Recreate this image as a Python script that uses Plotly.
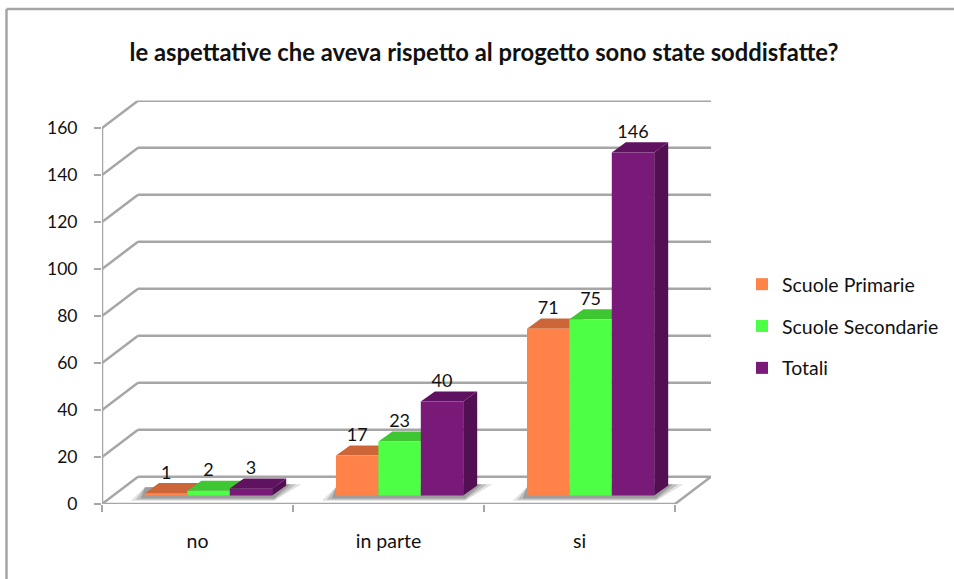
import plotly.graph_objects as go

CATEGORIES = ["no", "in parte", "si"]
SERIES = ["Scuole Primarie", "Scuole Secondarie", "Totali"]
PRIMARIE = [1, 17, 71]
SECONDARIE = [2, 23, 75]
TOTALI = [3, 40, 146]
VALUES = [PRIMARIE, SECONDARIE, TOTALI]
Y_TICKS = [0, 20, 40, 60, 80, 100, 120, 140, 160]

FRONT = ["#FF8249", "#4DFF45", "#7A1A78"]
TOP = ["#CC6638", "#3FC733", "#5F1260"]
SIDE = ["#B85A30", "#38B02E", "#520F52"]
GRID = "#A6A6A6"
FONT = "Lato, Carlito, sans-serif"
TEXT = "#111111"

W, H = 954, 579
L, R, B, T = 102, 711, 504, 100.5
X_PX = 191.0
Y_PX = 2.35
X_MIN = -0.5
X_FRONT_MAX = 2.5
X_MAX = X_MIN + (R - L) / X_PX
Y_MAX = (B - T) / Y_PX
WALL_DX = X_MAX - X_FRONT_MAX
WALL_DY = 11.6
BAR_W = 42.4 / X_PX
BAR_START = -52.5 / X_PX
BAR_BASE = 3.6
DEPTH_DX = 14 / X_PX
DEPTH_DY = 4.3

fig = go.Figure()

# soft shadow under each group of bars (three stacked translucent layers)
for c in range(len(CATEGORIES)):
    x0 = c + BAR_START
    x1 = x0 + 3 * BAR_W
    for grow, op in [(1.0, 0.2), (0.65, 0.3), (0.3, 0.42)]:
        fig.add_trace(go.Scatter(
            x=[x0 - 0.075 * grow, x1 + 0.01, x1 + DEPTH_DX + 0.08 * grow, x1 + DEPTH_DX, x0],
            y=[BAR_BASE - 0.9 - 1.3 * grow, BAR_BASE - 0.9 - 1.3 * grow, BAR_BASE + 4.8, BAR_BASE + 4.8, BAR_BASE + 3.5],
            mode="lines", fill="toself", line=dict(width=0),
            fillcolor=f"rgba(110,110,110,{op})", showlegend=False, hoverinfo="skip",
        ))

# depth faces of every bar, computed from the values
for s, vals in enumerate(VALUES):
    for c, v in enumerate(vals):
        x0 = c + BAR_START + s * BAR_W
        x1 = x0 + BAR_W
        top = BAR_BASE + v
        fig.add_trace(go.Scatter(
            x=[x1, x1 + DEPTH_DX, x1 + DEPTH_DX, x1],
            y=[BAR_BASE, BAR_BASE + DEPTH_DY, top + DEPTH_DY, top],
            mode="lines", fill="toself", line=dict(width=0), fillcolor=SIDE[s],
            showlegend=False, hoverinfo="skip",
        ))
        fig.add_trace(go.Scatter(
            x=[x0, x1, x1 + DEPTH_DX, x0 + DEPTH_DX],
            y=[top, top, top + DEPTH_DY, top + DEPTH_DY],
            mode="lines", fill="toself", line=dict(width=0), fillcolor=TOP[s],
            showlegend=False, hoverinfo="skip",
        ))

# front faces: real bars on an overlaid axis pair, so they sit above all depth faces
for s, vals in enumerate(VALUES):
    fig.add_trace(go.Bar(
        x=list(range(len(CATEGORIES))), y=vals, base=BAR_BASE, name=SERIES[s],
        width=BAR_W, offset=BAR_START + s * BAR_W,
        marker=dict(color=FRONT[s], line=dict(width=0)),
        xaxis="x2", yaxis="y2", legendgroup=SERIES[s],
    ))
    fig.add_trace(go.Scatter(
        x=[c + BAR_START + (s + 0.5) * BAR_W for c in range(len(CATEGORIES))],
        y=[BAR_BASE + v + DEPTH_DY for v in vals],
        text=[str(v) for v in vals], mode="text", textposition="top center",
        textfont=dict(family=FONT, size=18, color=TEXT),
        xaxis="x2", yaxis="y2", showlegend=False, hoverinfo="skip", cliponaxis=False,
    ))

shapes = []
def seg(x0, y0, x1, y1):
    shapes.append(dict(type="line", xref="x", yref="y", x0=x0, y0=y0, x1=x1, y1=y1,
                       layer="below", line=dict(color=GRID, width=2.5)))

for v in Y_TICKS:
    seg(X_MIN, v, X_MIN + WALL_DX, v + WALL_DY)
    seg(X_MIN + WALL_DX, v + WALL_DY, X_MAX, v + WALL_DY)
seg(X_MIN, 0, X_MIN, Y_TICKS[-1])
seg(X_MIN, 0, X_FRONT_MAX, 0)
seg(X_FRONT_MAX, 0, X_MAX, WALL_DY)

for x0, y0, x1, y1 in [(6.5 / W, 0, 6.5 / W, 1 - 9 / H), (6.5 / W, 1 - 9 / H, 1, 1 - 9 / H)]:
    shapes.append(dict(type="line", xref="paper", yref="paper", x0=x0, y0=y0, x1=x1, y1=y1,
                       layer="below", line=dict(color=GRID, width=2.5)))

dom_x = [L / W, R / W]
dom_y = [1 - B / H, 1 - T / H]
x_common = dict(domain=dom_x, range=[X_MIN, X_MAX], showgrid=False, zeroline=False, showline=False, automargin=False)
y_common = dict(domain=dom_y, range=[0, Y_MAX], showgrid=False, zeroline=False, showline=False, automargin=False)

fig.update_layout(
    width=W, height=H, autosize=False,
    margin=dict(l=0, r=0, t=0, b=0, pad=0, autoexpand=False),
    paper_bgcolor="white", plot_bgcolor="rgba(0,0,0,0)",
    font=dict(family=FONT, size=18, color=TEXT),
    barmode="overlay",
    title=dict(text="<b>le aspettative che aveva rispetto al progetto sono state soddisfatte?</b>",
               x=484 / W, y=1 - 52.5 / H, xanchor="center", yanchor="middle", xref="paper", yref="paper",
               font=dict(family=FONT, size=23.8, color=TEXT)),
    xaxis=dict(**x_common, tickmode="array", tickvals=list(range(len(CATEGORIES))), ticktext=CATEGORIES,
               ticks="", ticklabelstandoff=23, tickfont=dict(family=FONT, size=19.5, color=TEXT),
               minor=dict(tickmode="array", tickvals=[-0.5, 0.5, 1.5, 2.5], ticks="outside", ticklen=7,
                          tickcolor=GRID, tickwidth=2)),
    yaxis=dict(**y_common, tickmode="array", tickvals=Y_TICKS, ticks="outside", ticklen=7,
               ticklabelstandoff=13,
               tickcolor=GRID, tickwidth=2, tickfont=dict(family=FONT, size=17.5, color=TEXT)),
    xaxis2=dict(**x_common, overlaying="x", anchor="y2", visible=False),
    yaxis2=dict(**y_common, overlaying="y", anchor="x2", visible=False),
    legend=dict(x=742 / W, y=1 - 265 / H, xanchor="left", yanchor="top", bgcolor="rgba(0,0,0,0)",
                tracegroupgap=13.5, font=dict(family=FONT, size=19.5, color=TEXT),
                itemclick=False, itemdoubleclick=False),
    shapes=shapes,
    hovermode=False,
)

fig.write_html("out.html", config={"displayModeBar": False},
               post_script="document.body.style.margin='0';document.body.style.overflow='hidden';")
